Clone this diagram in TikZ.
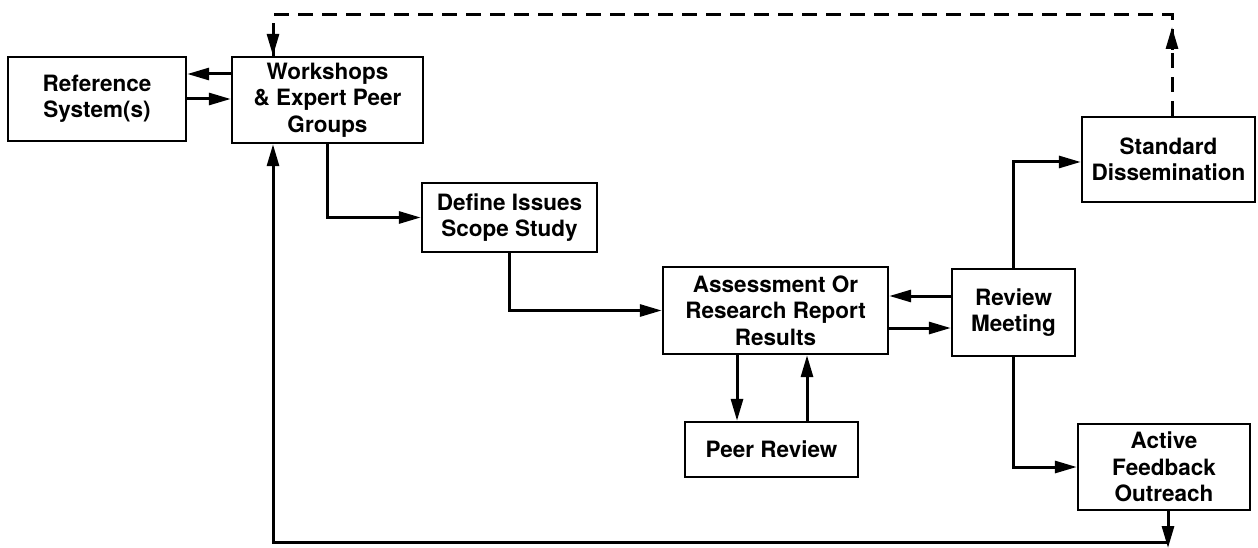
\documentclass[tikz,border=0pt]{standalone}
\usepackage{fontspec}
\setmainfont{TeX Gyre Heros}
\usetikzlibrary{arrows.meta,calc}
\tikzset{
  box/.style={draw, line width=2.4pt, align=center, inner sep=0pt,
    font=\fontsize{22.5}{26.5}\selectfont\bfseries},
  arr/.style={line width=3pt, -{Triangle[length=22pt,width=12pt]}},
  dashline/.style={line width=3pt, dash pattern=on 15pt off 9pt},
}
\begin{document}
\begin{tikzpicture}[x=1pt,y=-1pt]
\useasboundingbox (0,0) rectangle (1258,548);
\node[box, minimum width=178pt, minimum height=84pt] (ref) at (97,99) {Reference\\System(s)};
\node[box, minimum width=191pt, minimum height=86pt] (work) at (327.5,100) {Workshops\\\& Expert Peer\\Groups};
\node[box, minimum width=175pt, minimum height=69pt] (define) at (509.5,217.5) {Define Issues\\Scope Study};
\node[box, minimum width=225pt, minimum height=87pt] (assess) at (775.5,310.5) {Assessment Or\\Research Report\\Results};
\node[box, minimum width=173pt, minimum height=55pt] (peer) at (771.5,449.5) {Peer Review};
\node[box, minimum width=123pt, minimum height=87pt] (review) at (1013.5,312.5) {Review\\Meeting};
\node[box, minimum width=173pt, minimum height=85pt] (standard) at (1168.5,159.5) {Standard\\Dissemination};
\node[box, minimum width=172pt, minimum height=86pt] (active) at (1164,467) {Active\\Feedback\\Outreach};

% Reference <-> Workshops
\draw[arr] (work.west |- 0,74) -- (ref.east |- 0,74);
\draw[arr] (ref.east |- 0,99) -- (work.west |- 0,99);

% Workshops -> Define -> Assessment
\draw[arr] (work.south) |- (define.west);
\draw[arr] (define.south) |- (assess.west);

% Assessment <-> Review Meeting
\draw[arr] (review.west |- 0,296) -- (assess.east |- 0,296);
\draw[arr] (assess.east |- 0,328) -- (review.west |- 0,328);

% Assessment <-> Peer Review
\draw[arr] (assess.south -| 737,0) -- (peer.north -| 737,0);
\draw[arr] (peer.north -| 807,0) -- (assess.south -| 807,0);

% Review Meeting -> Standard / Active
\draw[arr] (review.north) |- (standard.west |- 0,162);
\draw[arr] (review.south) |- (active.west);

% dashed feedback from Standard Dissemination to Workshops
\coordinate (dr) at (1172,15);
\coordinate (dl) at (273,15);
\coordinate (dtip) at (1172,27);
\coordinate (dtail) at (1172,50);
\draw[dashline] (standard.north -| dr) -- (dr) -- (dl) -- (dl |- work.north);
\draw[arr] (dtail) -- (dtip);
\draw[arr] (dl |- 0,30) -- (dl |- work.north);

% Active feedback loop back to Workshops
\coordinate (aend) at (1168,548);
\coordinate (bl) at (1168,542);
\draw[arr] (active.south -| aend) -- (aend);
\draw[arr] (bl) -- (dl |- bl) -- (dl |- work.south);
\end{tikzpicture}
\end{document}
